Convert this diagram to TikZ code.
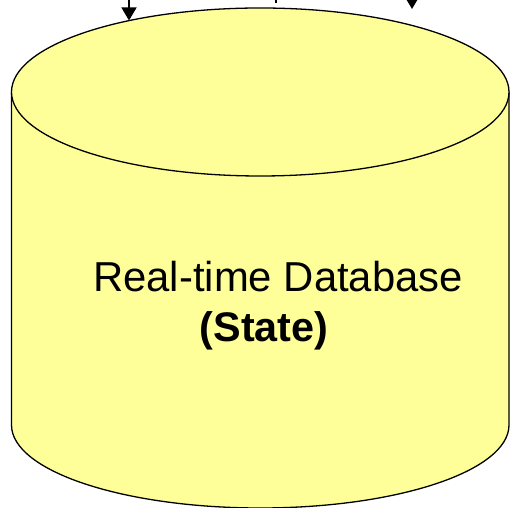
\documentclass[tikz,border=0pt]{standalone}
\usepackage{fontspec}
\setmainfont{Liberation Sans}
\usetikzlibrary{arrows.meta}
\definecolor{dbyellow}{HTML}{FFFF99}
\tikzset{
  dbline/.style={draw=black, line width=1.3bp, fill=dbyellow},
  flow/.style={draw=black, line width=1.5bp, -{Triangle[width=15bp,length=13bp]}},
  dblabel/.style={font=\fontsize{42}{48}\selectfont, inner sep=0pt, anchor=base west}
}
\begin{document}
\begin{tikzpicture}[x=1bp,y=1bp]
\useasboundingbox (0,0) rectangle (510,508);
% cylinder body
\path[dbline] (11.5,416) -- (11.5,83) arc[start angle=180,end angle=360,x radius=248.75,y radius=83] -- (509,416);
% top ellipse
\path[dbline] (260.25,416) ellipse[x radius=248.75,y radius=84];
% arrows
\coordinate (in1) at (129,487.5);
\coordinate (src1) at (129,514);
\coordinate (in2) at (412,499);
\coordinate (src2) at (412,514);
\coordinate (src3) at (276,508);
\coordinate (t3) at (276,505);
\draw[flow] (src1) -- (in1);
\draw[flow] (src2) -- (in2);
\draw[line width=1.3bp] (src3) -- (t3);
% labels
\node[dblabel] (lbl1) at (93,216) {Real-time Database};
\node[dblabel, font=\fontsize{41.5}{48}\selectfont] (lbl2) at (199.5,166) {\textbf{(State)}};
\end{tikzpicture}
\end{document}
